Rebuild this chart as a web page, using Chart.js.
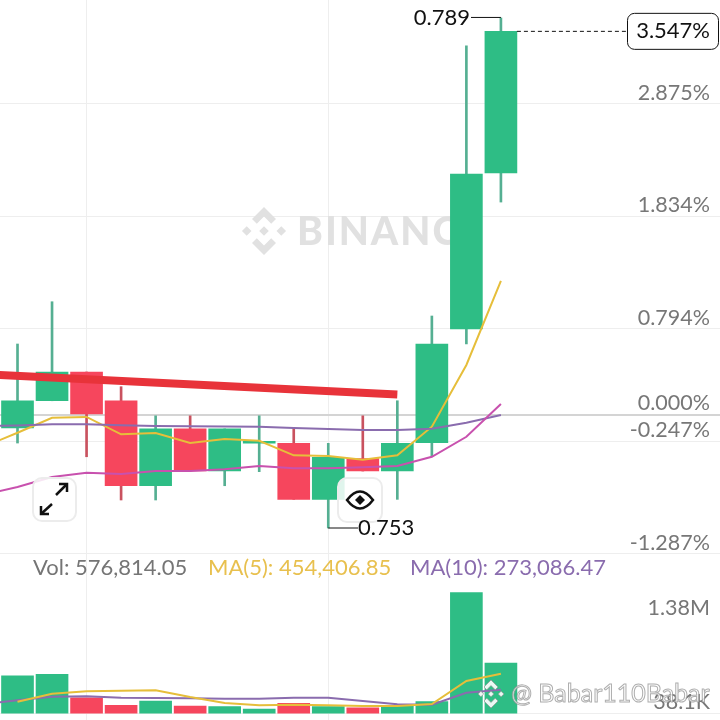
<!DOCTYPE html>
<html>
<head>
<meta charset="utf-8">
<script src="https://cdn.jsdelivr.net/npm/chart.js@4/dist/chart.umd.min.js"></script>
<style>
  html, body { margin: 0; padding: 0; background: #fff; }
  canvas { display: block; }
</style>
</head>
<body>
<canvas id="chart" width="720" height="720"></canvas>
<script type="text/javascript">

// candles, in percent change
const opens  = [-0.122, 0.130, 0.396, 0.130, -0.656, -0.130, -0.520, -0.262, -0.264, -0.782, -0.406, -0.520, -0.258, 0.794, 2.237];
const closes = [0.130, 0.396, 0.000, -0.656, -0.130, -0.520, -0.130, -0.245, -0.782, -0.393, -0.520, -0.264, 0.655, 2.227, 3.547];
const highs  = [0.655, 1.046, 0.396, 0.260, 0.000, 0.000, -0.130, 0.000, -0.125, -0.264, 0.000, 0.130, 0.914, 3.412, 3.671];
const lows   = [-0.261, 0.130, -0.388, -0.788, -0.788, -0.520, -0.656, -0.526, -0.782, -1.047, -0.520, -0.782, -0.381, 0.655, 1.968];
const volumes = [433000, 449000, 182000, 96000, 145000, 88000, 80000, 54000, 119000, 80000, 68000, 88000, 137000, 1380000, 576814.05];

// moving averages start one candle left of the first one, it gets clipped
const priceMa5  = [-0.298, -0.166, -0.027, -0.020, -0.180, -0.168, -0.261, -0.224, -0.240, -0.375, -0.381, -0.415, -0.375, -0.110, 0.461, 1.238];
const priceMa10 = [-0.104, -0.099, -0.088, -0.088, -0.097, -0.104, -0.106, -0.108, -0.110, -0.122, -0.131, -0.141, -0.141, -0.129, -0.073, -0.002];
const priceMa20 = [-0.742, -0.668, -0.575, -0.536, -0.548, -0.520, -0.520, -0.504, -0.474, -0.495, -0.495, -0.486, -0.474, -0.388, -0.203, 0.100];
const volMa5  = [null, 137000, 228000, 255000, 262000, 267000, 190000, 122000, 96000, 103000, 96000, 88000, 88000, 111000, 373000, 454406.85];
const volMa10 = [111000, 153000, 194000, 198000, 182000, 179000, 176000, 171000, 171000, 182000, 182000, 145000, 107000, 103000, 239000, 273086.47];

// the hand drawn red line: [candle index, percent]
const trendLine = [[-1, 0.377], [11, 0.188]];

const priceTicks = [2.875, 1.834, 0.794, 0.000, -0.247, -1.287];
const volTicks = [1380000, 38100, 0];
const volTickLabels = {1380000: '1.38M', 38100: '38.1K', 0: ''};
const gridCandles = [2, 9];

const lastPrice = '3.547%';
const highLabel = '0.789';
const lowLabel = '0.753';
const legendVol = 'Vol: 576,814.05';
const legendMa5 = 'MA(5): 454,406.85';
const legendMa10 = 'MA(10): 273,086.47';

const GREEN = '#2EBD85', RED = '#F6465D';
const GREEN_WICK = '#55AF92', RED_WICK = '#C9525F';
const FONT = 'Lato, sans-serif';

const isUp = i => closes[i] >= opens[i];
const withX = arr => arr.map((v, i) => ({x: i - 1, y: v}));

// keep the plot on the whole canvas, labels sit inside it
const noPadding = axis => {
    axis.paddingTop = axis.paddingBottom = axis.paddingLeft = axis.paddingRight = 0;
    if (axis.isHorizontal()) {
        axis.height = 0;
    } else {
        axis.width = 0;
    }
};

function maLine(values, color, yAxisID) {
    return {type: 'line', data: withX(values), borderColor: color, borderWidth: 2, pointRadius: 0,
        tension: 0, yAxisID: yAxisID, order: 3, spanGaps: false};
}

function logo(ctx, cx, cy, r, fill, stroke) {
    const shapes = [
        [[0, -1], [.5, -.5], [.3, -.3], [0, -.6], [-.3, -.3], [-.5, -.5]],
        [[0, 1], [.5, .5], [.3, .3], [0, .6], [-.3, .3], [-.5, .5]],
        [[0, -.2], [.2, 0], [0, .2], [-.2, 0]],
        [[-.72, -.2], [-.52, 0], [-.72, .2], [-.92, 0]],
        [[.72, -.2], [.92, 0], [.72, .2], [.52, 0]]
    ];
    ctx.fillStyle = fill;
    shapes.forEach(s => {
        ctx.beginPath();
        s.forEach((p, i) => i ? ctx.lineTo(cx + p[0] * r, cy + p[1] * r) : ctx.moveTo(cx + p[0] * r, cy + p[1] * r));
        ctx.closePath();
        ctx.fill();
        if (stroke) { ctx.strokeStyle = stroke; ctx.lineWidth = 1; ctx.stroke(); }
    });
}

function iconBox(ctx, x, y, s) {
    ctx.beginPath();
    ctx.roundRect(x, y, s, s, 9);
    ctx.fillStyle = 'rgba(255,255,255,0.85)';
    ctx.fill();
    ctx.strokeStyle = '#ececec';
    ctx.lineWidth = 2;
    ctx.stroke();
}

function polyline(ctx, pts) {
    ctx.beginPath();
    pts.forEach((p, i) => i ? ctx.lineTo(p[0], p[1]) : ctx.moveTo(p[0], p[1]));
    ctx.stroke();
}

function eyeDot(ctx, x, y) {
    ctx.fillStyle = '#111';
    ctx.beginPath();
    ctx.moveTo(x, y - 5);
    ctx.lineTo(x + 5, y);
    ctx.lineTo(x, y + 5);
    ctx.lineTo(x - 5, y);
    ctx.closePath();
    ctx.fill();
}

const watermark = {
    id: 'watermark',
    beforeDatasetsDraw(chart) {
        const ctx = chart.ctx;
        ctx.save();
        logo(ctx, 264, 231, 24, '#e1e1e1');
        ctx.fillStyle = '#e1e1e1';
        ctx.font = '900 39px ' + FONT;
        ctx.letterSpacing = '2px';
        ctx.textAlign = 'left';
        ctx.textBaseline = 'middle';
        ctx.fillText('BINANCE', 297, 232);
        ctx.restore();
    }
};

const overlays = {
    id: 'overlays',
    afterDraw(chart) {
        const ctx = chart.ctx;
        const xs = chart.scales.x, ys = chart.scales.y;
        ctx.save();

        // legend row
        ctx.font = '22px ' + FONT;
        ctx.textAlign = 'left';
        ctx.textBaseline = 'middle';
        ctx.fillStyle = '#757575';
        ctx.fillText(legendVol, 33, 568);
        ctx.fillStyle = '#E8C04E';
        ctx.fillText(legendMa5, 208, 568);
        ctx.fillStyle = '#8A6CAE';
        ctx.fillText(legendMa10, 410, 568);

        // high marker
        const hiX = xs.getPixelForValue(14), hiY = ys.getPixelForValue(highs[14]);
        ctx.strokeStyle = '#111';
        ctx.lineWidth = 1;
        polyline(ctx, [[471, hiY - 0.5], [hiX, hiY - 0.5]]);
        ctx.fillStyle = '#111';
        ctx.textAlign = 'right';
        ctx.fillText(highLabel, 470, hiY);

        // low marker
        const loX = xs.getPixelForValue(9), loY = ys.getPixelForValue(lows[9]);
        polyline(ctx, [[loX, loY], [358, loY]]);

        // last price line and box
        const lastY = ys.getPixelForValue(closes[14]);
        ctx.setLineDash([4, 3]);
        polyline(ctx, [[xs.getPixelForValue(14) + 16, lastY], [627, lastY]]);
        ctx.setLineDash([]);
        ctx.beginPath();
        ctx.roundRect(627.5, lastY - 18, 91, 36, 7);
        ctx.fillStyle = '#fff';
        ctx.fill();
        ctx.stroke();
        ctx.fillStyle = '#111';
        ctx.fillText(lastPrice, 710, lastY);

        // expand button
        iconBox(ctx, 33, 478, 43);
        ctx.strokeStyle = '#111';
        ctx.lineWidth = 2.5;
        polyline(ctx, [[56, 495], [67, 484]]);
        polyline(ctx, [[59, 484], [67, 484], [67, 492]]);
        polyline(ctx, [[52, 504], [41, 514]]);
        polyline(ctx, [[41, 506], [41, 514], [49, 514]]);

        // eye button
        iconBox(ctx, 338, 478, 44);
        ctx.strokeStyle = '#111';
        ctx.lineWidth = 2.5;
        ctx.beginPath();
        ctx.moveTo(347, 500);
        ctx.quadraticCurveTo(360, 483, 373, 500);
        ctx.quadraticCurveTo(360, 517, 347, 500);
        ctx.closePath();
        ctx.stroke();
        eyeDot(ctx, 360, 500);

        ctx.textAlign = 'left';
        ctx.fillStyle = '#111';
        ctx.font = '22px ' + FONT;
        ctx.fillText(lowLabel, 358, loY);

        // bottom watermark
        logo(ctx, 491, 694, 14, 'rgba(255,255,255,0.9)', 'rgba(150,150,150,0.7)');
        ctx.font = '25px ' + FONT;
        ctx.lineWidth = 1;
        ctx.strokeStyle = 'rgba(140,140,140,0.7)';
        ctx.fillStyle = 'rgba(255,255,255,0.8)';
        ctx.fillText('@ Babar110Babar', 511, 694);
        ctx.strokeText('@ Babar110Babar', 511, 694);
        ctx.restore();
    }
};

new Chart(document.getElementById('chart').getContext('2d'), {
    type: 'bar',
    data: {
        datasets: [
            {
                data: trendLine.map(p => ({x: p[0], y: p[1]})), type: 'line', borderColor: '#E8333A',
                borderWidth: 8, pointRadius: 0, yAxisID: 'y', order: 1
            },
            maLine(priceMa20, '#C851AE', 'y'),
            maLine(priceMa10, '#8A6CAE', 'y'),
            maLine(priceMa5, '#E6BE3A', 'y'),
            maLine(volMa5, '#E6BE3A', 'yVol'),
            maLine(volMa10, '#8A6CAE', 'yVol'),
            {
                data: opens.map((o, i) => ({x: i, y: [o, closes[i]]})),
                backgroundColor: opens.map((o, i) => isUp(i) ? GREEN : RED),
                barThickness: 32, yAxisID: 'y', order: 5
            },
            {
                data: volumes.map((v, i) => ({x: i, y: v})),
                backgroundColor: volumes.map((v, i) => isUp(i) ? GREEN : RED),
                barThickness: 32, yAxisID: 'yVol', order: 5
            },
            {
                data: highs.map((h, i) => ({x: i, y: [lows[i], h]})),
                backgroundColor: highs.map((h, i) => isUp(i) ? GREEN_WICK : RED_WICK),
                barThickness: 2, yAxisID: 'y', order: 6
            }
        ]
    },
    options: {
        responsive: false,
        animation: false,
        events: [],
        layout: {padding: 0},
        datasets: {bar: {grouped: false}},
        plugins: {legend: {display: false}, tooltip: {enabled: false}},
        scales: {
            x: {
                type: 'linear', min: -0.507, max: 20.345, offset: false,
                afterBuildTicks: axis => { axis.ticks = gridCandles.map(v => ({value: v})); },
                afterFit: noPadding,
                ticks: {display: false},
                border: {display: false},
                grid: {color: '#eeeeee', lineWidth: 1, drawTicks: false, offset: false}
            },
            y: {
                position: 'right', min: -2.823, max: 3.837,
                afterBuildTicks: axis => { axis.ticks = priceTicks.map(v => ({value: v})); },
                afterFit: noPadding,
                ticks: {
                    mirror: true, padding: -10, autoSkip: false, color: '#777777',
                    font: {family: FONT, size: 21.5, lineHeight: 1.05},
                    callback: v => [v.toFixed(3) + '%', '']
                },
                border: {display: false},
                grid: {
                    drawTicks: false,
                    color: c => c.tick.value === 0 ? '#d4d4d4' : '#eeeeee',
                    lineWidth: c => c.tick.value === 0 ? 2 : 1
                }
            },
            yVol: {
                position: 'right', min: -71820, max: 8136000,
                afterBuildTicks: axis => { axis.ticks = volTicks.map(v => ({value: v})); },
                afterFit: noPadding,
                ticks: {
                    mirror: true, padding: -10, autoSkip: false, color: '#777777',
                    font: c => ({family: FONT, size: 21.5, lineHeight: c.tick && c.tick.value === 1380000 ? 1.4 : 0.75}),
                    callback: v => v === 1380000 ? ['', volTickLabels[v]] : [volTickLabels[v], '']
                },
                border: {display: false},
                grid: {
                    drawTicks: false,
                    color: c => c.tick.value === 0 ? '#eeeeee' : 'rgba(0,0,0,0)'
                }
            }
        }
    },
    plugins: [watermark, overlays]
});
</script>
</body>
</html>
